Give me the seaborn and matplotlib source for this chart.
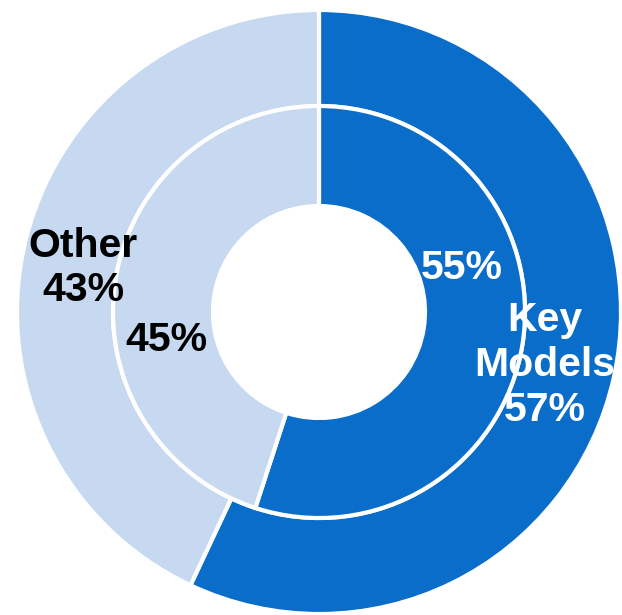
import matplotlib
matplotlib.use("Agg")
import matplotlib.pyplot as plt
import seaborn as sns

sns.set_theme(style="white")
plt.rcParams['font.family'] = ['Liberation Sans', 'DejaVu Sans']

categories = ["Key Models", "Other"]
outer_values = [57, 43]
inner_values = [55, 45]
colors = ["#0A6DC9", "#C6D9F0"]

fig = plt.figure(figsize=(6.22, 6.15), dpi=100)
ax = fig.add_axes([0, 0, 1, 1])

S = 302.0
r_out = 1.0
w_out = (302 - 206) / S
r_in = 206 / S
w_in = (206 - 106) / S

ax.pie(outer_values, radius=r_out, colors=colors, startangle=90, counterclock=False,
       wedgeprops=dict(width=w_out, edgecolor='white', linewidth=3), frame=True)
ax.pie(inner_values, radius=r_in, colors=colors, startangle=90, counterclock=False,
       wedgeprops=dict(width=w_in, edgecolor='white', linewidth=3), frame=True)

ax.set_xlim(-319 / S, (622 - 319) / S)
ax.set_ylim(-(615 - 312) / S, 312 / S)
ax.set_aspect('equal')
ax.axis('off')

def px(x, y):
    return ((x - 319) / S, (312 - y) / S)

fs = 29.5
ls = 1.22
ax.text(*px(83, 268), f"{categories[1]}\n{outer_values[1]}%", ha='center', va='center',
        fontsize=fs, fontweight='bold', color='black', linespacing=ls)
ax.text(*px(166, 340), f"{inner_values[1]}%", ha='center', va='center',
        fontsize=fs, fontweight='bold', color='black')
ax.text(*px(462, 268), f"{inner_values[0]}%", ha='center', va='center',
        fontsize=fs, fontweight='bold', color='white')
ax.text(*px(545, 365), "Key\nModels\n" + f"{outer_values[0]}%", ha='center', va='center',
        fontsize=fs, fontweight='bold', color='white', linespacing=ls)

fig.savefig("out.png", dpi=100)
